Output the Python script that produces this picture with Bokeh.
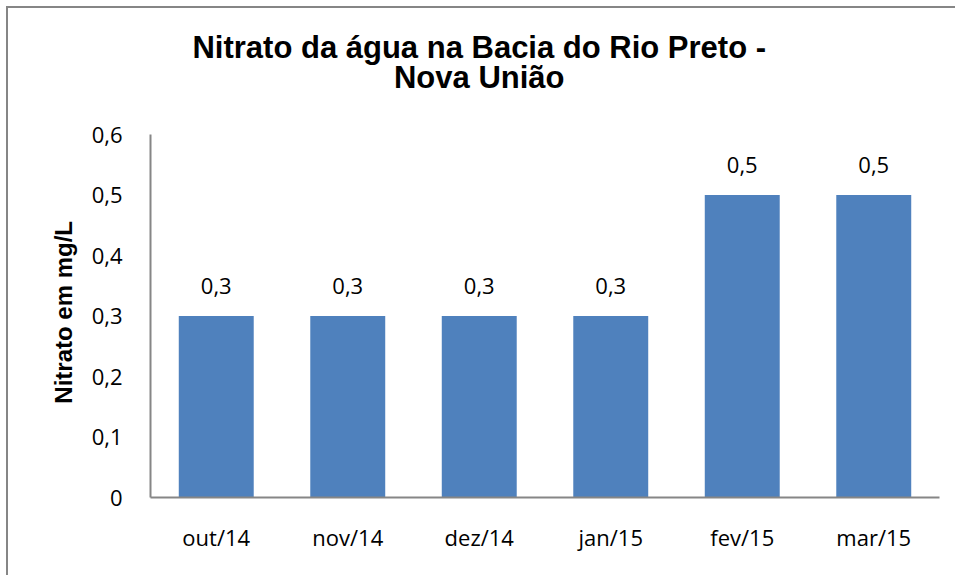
from bokeh.plotting import figure
from bokeh.models import ColumnDataSource, FactorRange, Range1d, FixedTicker, LabelSet, Label
from bokeh.core.properties import value
from bokeh.embed import file_html
from bokeh.resources import INLINE

months = ["out/14", "nov/14", "dez/14", "jan/15", "fev/15", "mar/15"]
nitrato = [0.3, 0.3, 0.3, 0.3, 0.5, 0.5]
y_ticks = [0, 0.1, 0.2, 0.3, 0.4, 0.5, 0.6]
y_tick_labels = ["0", "0,1", "0,2", "0,3", "0,4", "0,5", "0,6"]
title_lines = ["Nitrato da água na Bacia do Rio Preto -", "Nova União"]
y_title = "Nitrato em mg/L"

labels = [f"{v}".replace(".", ",") for v in nitrato]
src = ColumnDataSource(dict(m=months, v=nitrato, lab=labels))

AX = "#868686"
BAR = "#4F81BD"
FONT = "Open Sans"

# plot area extends upward to hold the title; the value axis itself stops at 0.6
AXIS_MAX = 0.6
AXIS_PX = 363      # pixel height of the 0..0.6 axis
FRAME_PX = 477     # pixel height of the whole plot area
y_top = AXIS_MAX * FRAME_PX / AXIS_PX

p = figure(x_range=FactorRange(*months, range_padding=0), y_range=Range1d(0, y_top),
           width=949, height=569, output_backend="svg", toolbar_location=None,
           min_border_left=142, min_border_right=18, min_border_top=12, min_border_bottom=80)
p.styles = {"border-left": "2px solid #868686", "border-top": "2px solid #868686",
            "margin-left": "6px", "margin-top": "6px"}
p.outline_line_color = None
p.grid.grid_line_color = None

p.vbar(x="m", top="v", width=0.57, source=src, fill_color=BAR, line_color=None)

p.add_layout(LabelSet(x="m", y="v", text="lab", source=src, text_align="center",
                      text_baseline="alphabetic", y_offset=22, text_font=value(FONT),
                      text_font_size="22px", text_color="black"))

for txt, dy in zip(title_lines, (87, 57)):
    p.add_layout(Label(x=2.5, y=AXIS_MAX, y_offset=dy, text=txt,
                       text_align="center", text_baseline="alphabetic",
                       text_font="Liberation Sans", text_font_size="31px",
                       text_font_style="bold", text_color="black"))

p.yaxis.ticker = FixedTicker(ticks=y_ticks)
p.yaxis.bounds = (0, AXIS_MAX)
p.yaxis.major_label_overrides = {t: l for t, l in zip(y_ticks, y_tick_labels)}
# non-breaking padding keeps the title centred on the 0..0.6 axis, not on the taller plot area
p.yaxis.axis_label = y_title + "\u00a0" * 16
p.yaxis.axis_label_text_font = "Liberation Sans"
p.yaxis.axis_label_text_font_style = "bold"
p.yaxis.axis_label_text_font_size = "24px"
p.yaxis.axis_label_text_color = "black"
p.yaxis.axis_label_standoff = 12

for ax in (p.xaxis, p.yaxis):
    ax.axis_line_color = AX
    ax.axis_line_width = 2
    ax.major_tick_line_color = None
    ax.minor_tick_line_color = None
    ax.major_label_text_font = FONT
    ax.major_label_text_font_size = "22px"
    ax.major_label_text_color = "black"
p.yaxis.major_label_standoff = 22
p.xaxis.major_label_standoff = 18

open("out.html", "w").write(file_html(p, INLINE))
